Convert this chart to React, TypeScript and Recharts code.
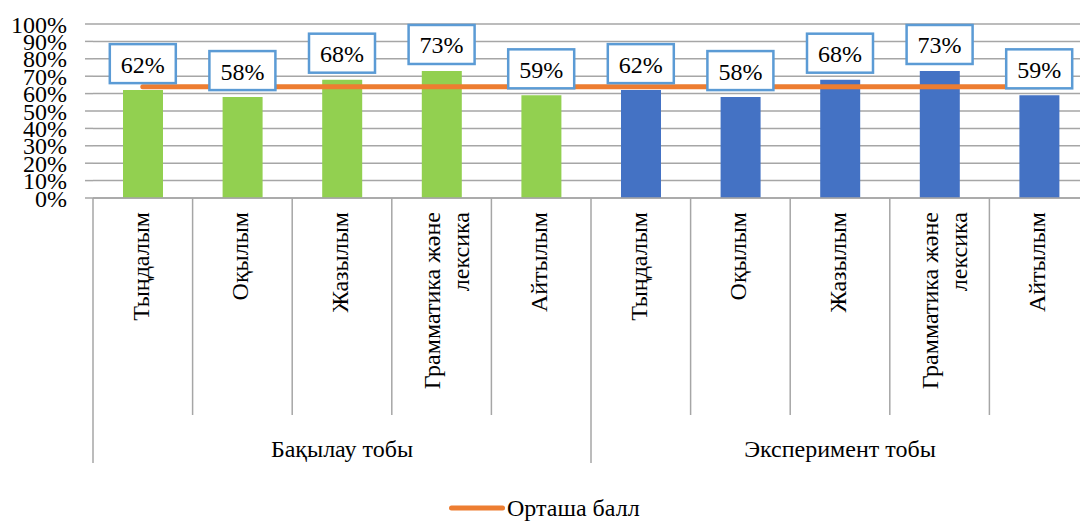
import {
  ComposedChart,
  Bar,
  Line,
  Cell,
  XAxis,
  YAxis,
  CartesianGrid,
  Legend,
  LabelList,
} from "recharts";

const FONT = "'Liberation Serif', 'Times New Roman', serif";
const GRID = "#a6a6a6";
const textStyle = { fontFamily: FONT, fontSize: 24 };

// skill areas, same for both groups
const skills = ["Тыңдалым", "Оқылым", "Жазылым", "Грамматика және лексика", "Айтылым"];
const groups = ["Бақылау тобы", "Эксперимент тобы"];
const groupColors = ["#92d050", "#4472c4"];

// percentage scores per group
const controlScores = [62, 58, 68, 73, 59];
const experimentScores = [62, 58, 68, 73, 59];
// average score line
const averageScores = [64, 64, 64, 64, 64, 64, 64, 64, 64, 64];

const yTicks = [0, 10, 20, 30, 40, 50, 60, 70, 80, 90, 100];

const data = [controlScores, experimentScores].flatMap((scores, g) =>
  scores.map((value, i) => ({
    name: skills[i],
    group: g,
    first: i === 0,
    value,
  })),
).map((d, i) => ({ ...d, avg: averageScores[i] }));

// split long category names into lines of at most 16 chars
function wrap(text: string, max = 16): string[] {
  const lines: string[] = [];
  let cur = "";
  for (const w of text.split(" ")) {
    const next = cur ? cur + " " + w : w;
    if (next.length > max && cur) {
      lines.push(cur);
      cur = w;
    } else cur = next;
  }
  if (cur) lines.push(cur);
  return lines;
}

function PercentTick(props: any) {
  const { x, y, payload } = props;
  return (
    <text x={x} y={y} dy="0.355em" textAnchor="end" fill="#000" style={textStyle}>
      {`${payload.value}%`}
    </text>
  );
}

function CategoryTick(props: any) {
  const { x, y, payload, index } = props;
  const half = payload.offset;
  const item = data[index];
  const lines = wrap(item.name);
  const n = lines.length;
  const groupSize = data.filter((d) => d.group === item.group).length;
  const left = x - half;
  const isLast = index === data.length - 1;
  return (
    <g>
      <line x1={left} x2={left} y1={y} y2={y + (item.first ? 265 : 217)} stroke={GRID} strokeWidth={1.5} />
      {isLast && <line x1={x + half} x2={x + half} y1={y} y2={y + 265} stroke={GRID} strokeWidth={1.5} />}
      <g transform={`translate(${x}, ${y + 14}) rotate(-90)`}>
        {lines.map((l, i) => (
          <text
            key={i}
            x={0}
            y={6 + (i - (n - 1) / 2) * 29 + (n - 1) * 6.5}
            textAnchor="end"
            fill="#000"
            style={textStyle}
          >
            {l}
          </text>
        ))}
      </g>
      {item.first && (
        <text x={left + half * groupSize} y={y + 259} textAnchor="middle" fill="#000" style={textStyle}>
          {groups[item.group]}
        </text>
      )}
    </g>
  );
}

function ValueLabel(props: any) {
  const vb = props.viewBox ?? {};
  const x = props.x ?? vb.x;
  const y = props.y ?? vb.y;
  const w = 66;
  const h = 39;
  const top = y - 7 - h;
  return (
    <g>
      <rect x={x - w / 2} y={top} width={w} height={h} fill="#fff" stroke="#5b9bd5" strokeWidth={2.5} />
      <text x={x} y={top + h / 2 + 1} textAnchor="middle" dominantBaseline="central" fill="#000" style={textStyle}>
        {`${props.value}%`}
      </text>
    </g>
  );
}

function LegendContent(props: any) {
  const items = (props.payload ?? []).filter((p: any) => p.type !== "none");
  return (
    <div style={{ height: 40, boxSizing: "border-box", paddingTop: 14, paddingLeft: 449, display: "flex" }}>
      {items.map((p: any) => (
        <div key={p.value} style={{ display: "flex", alignItems: "center", height: 24 }}>
          <svg width={56} height={24}>
            <line x1={2.5} x2={53.5} y1={12} y2={12} stroke={p.color} strokeWidth={5} strokeLinecap="round" />
          </svg>
          <span style={{ ...textStyle, marginLeft: 2, color: "#000", lineHeight: "24px" }}>{p.value}</span>
        </div>
      ))}
    </div>
  );
}

export default function App() {
  return (
    <div
      style={{
        position: "fixed",
        left: 0,
        top: 0,
        width: 1080,
        height: 522,
        overflow: "hidden",
        background: "#fff",
        fontFamily: FONT,
      }}
    >
      <style>{`.chart-root text, .chart-root span { font-family: ${FONT} !important; }`}</style>
      <div className="chart-root">
        {/* right margin is negative so the last category runs past the edge */}
        <ComposedChart width={1080} height={522} data={data} margin={{ top: 24, right: -9, left: 0, bottom: 0 }}>
          <CartesianGrid vertical={false} stroke={GRID} strokeWidth={1.5} />
          <YAxis
            domain={[0, 100]}
            ticks={yTicks}
            interval={0}
            width={93}
            axisLine={false}
            tickLine={{ stroke: GRID, strokeWidth: 1.5 }}
            tickSize={8}
            tickMargin={18}
            tick={<PercentTick />}
          />
          <XAxis
            dataKey="name"
            interval={0}
            height={284}
            tickSize={0}
            tickMargin={0}
            axisLine={{ stroke: GRID, strokeWidth: 1.5 }}
            tickLine={false}
            tick={<CategoryTick />}
          />
          <Bar dataKey="value" barSize={40} legendType="none" isAnimationActive={false}>
            {data.map((d, i) => (
              <Cell key={i} fill={groupColors[d.group]} />
            ))}
          </Bar>
          <Line
            dataKey="avg"
            name="Орташа балл"
            stroke="#ed7d31"
            strokeWidth={5}
            strokeLinecap="round"
            dot={false}
            activeDot={false}
            isAnimationActive={false}
          />
          {/* invisible series that carries the value boxes above the average line */}
          <Line
            dataKey="value"
            stroke="none"
            dot={false}
            activeDot={false}
            legendType="none"
            isAnimationActive={false}
          >
            <LabelList dataKey="value" content={<ValueLabel />} />
          </Line>
          <Legend verticalAlign="bottom" wrapperStyle={{ left: 0, width: 1080 }} content={<LegendContent />} />
        </ComposedChart>
      </div>
    </div>
  );
}
